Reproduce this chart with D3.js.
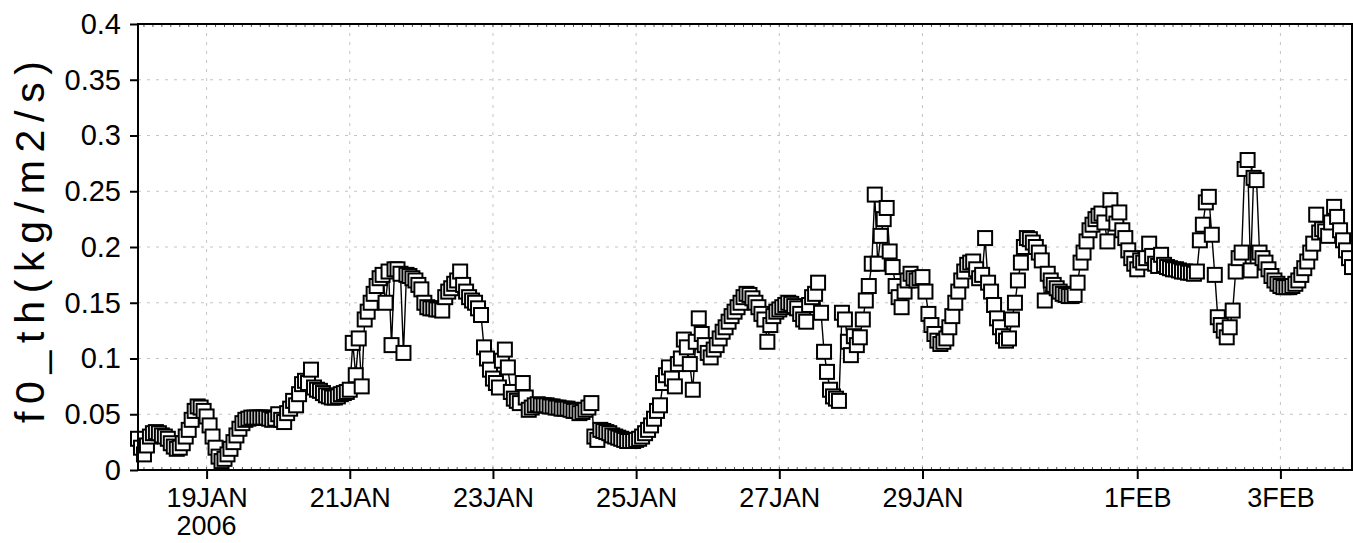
<!DOCTYPE html>
<html>
<head>
<meta charset="utf-8">
<script src="https://cdn.jsdelivr.net/npm/d3@7"></script>
<style>
  html, body { margin: 0; padding: 0; background: #fff; }
  svg { display: block; }
  text { font-family: "Liberation Sans", Arial, Helvetica, sans-serif; fill: #000; }
</style>
</head>
<body>
<svg id="chart" width="1353" height="543"></svg>
<script>
// ---- DATA (hourly values, 01Z of each day through 00Z of the next day) ----
const jan18 = [0.028,0.020,0.014,0.022,0.030,0.033,0.034,0.033,0.031,0.030,0.028,0.024,0.021,0.019,0.020,0.024,0.030,0.036,0.045,0.053,0.057,0.056,0.053,0.048];
const jan19 = [0.040,0.030,0.020,0.012,0.008,0.010,0.014,0.019,0.025,0.031,0.037,0.042,0.045,0.046,0.047,0.047,0.047,0.047,0.047,0.047,0.046,0.045,0.046,0.050];
const jan20 = [0.045,0.043,0.051,0.055,0.062,0.058,0.068,0.077,0.080,0.078,0.090,0.074,0.072,0.071,0.069,0.067,0.066,0.065,0.065,0.066,0.068,0.069,0.070,0.072];
const jan21 = [0.114,0.085,0.118,0.075,0.135,0.142,0.150,0.158,0.165,0.172,0.175,0.150,0.178,0.112,0.180,0.180,0.176,0.105,0.175,0.174,0.172,0.170,0.166,0.162];
const jan22 = [0.150,0.146,0.145,0.145,0.144,0.144,0.143,0.155,0.160,0.163,0.167,0.170,0.178,0.166,0.160,0.155,0.152,0.150,0.145,0.139,0.110,0.100,0.090,0.082];
const jan23 = [0.078,0.074,0.098,0.108,0.092,0.070,0.064,0.062,0.060,0.078,0.065,0.054,0.056,0.058,0.059,0.058,0.058,0.058,0.057,0.057,0.056,0.056,0.055,0.055];
const jan24 = [0.055,0.054,0.053,0.053,0.051,0.052,0.054,0.056,0.060,0.030,0.027,0.036,0.035,0.034,0.033,0.031,0.030,0.029,0.028,0.027,0.026,0.026,0.026,0.027];
const jan25 = [0.028,0.030,0.033,0.036,0.040,0.046,0.053,0.058,0.078,0.085,0.092,0.082,0.075,0.095,0.100,0.117,0.110,0.095,0.072,0.115,0.136,0.122,0.112,0.105];
const jan26 = [0.101,0.108,0.112,0.118,0.124,0.128,0.133,0.138,0.142,0.146,0.150,0.155,0.158,0.157,0.154,0.150,0.146,0.140,0.135,0.115,0.130,0.138,0.142,0.144];
const jan27 = [0.146,0.148,0.150,0.149,0.147,0.145,0.140,0.135,0.133,0.148,0.155,0.158,0.168,0.141,0.106,0.088,0.072,0.066,0.064,0.062,0.141,0.135,0.115,0.103];
const jan28 = [0.120,0.112,0.119,0.135,0.152,0.165,0.185,0.247,0.185,0.210,0.225,0.235,0.196,0.182,0.165,0.155,0.146,0.160,0.170,0.176,0.172,0.170,0.172,0.173];
const jan29 = [0.160,0.140,0.130,0.122,0.116,0.113,0.115,0.118,0.128,0.138,0.150,0.160,0.170,0.178,0.184,0.186,0.187,0.180,0.172,0.175,0.208,0.168,0.160,0.148];
const jan30 = [0.136,0.128,0.120,0.116,0.118,0.135,0.150,0.170,0.186,0.200,0.208,0.207,0.204,0.200,0.195,0.188,0.152,0.176,0.170,0.166,0.163,0.160,0.158,0.157];
const jan31 = [0.156,0.156,0.157,0.168,0.186,0.195,0.205,0.215,0.220,0.225,0.228,0.230,0.222,0.205,0.242,0.230,0.221,0.231,0.215,0.208,0.197,0.190,0.185,0.180];
const feb01 = [0.188,0.186,0.190,0.203,0.192,0.185,0.183,0.193,0.184,0.182,0.181,0.180,0.180,0.179,0.178,0.178,0.177,0.177,0.176,0.178,0.206,0.220,0.240,0.245];
const feb02 = [0.211,0.175,0.137,0.130,0.125,0.119,0.128,0.143,0.178,0.190,0.195,0.270,0.278,0.179,0.262,0.260,0.195,0.190,0.186,0.180,0.174,0.170,0.167,0.165];
const feb03 = [0.164,0.164,0.164,0.165,0.167,0.170,0.175,0.181,0.187,0.195,0.203,0.229,0.213,0.216,0.214,0.210,0.222,0.236,0.227,0.215,0.206,0.197,0.190,0.182];

const seriesStart = Date.UTC(2006, 0, 18, 1);   // first hourly value
const seriesEnd   = Date.UTC(2006, 1, 4, 0);    // last hourly value

const yTickValues = [0, 0.05, 0.1, 0.15, 0.2, 0.25, 0.3, 0.35, 0.4];
const yTickLabels = ["0", "0.05", "0.1", "0.15", "0.2", "0.25", "0.3", "0.35", "0.4"];
const xTickDates  = ["2006-01-19", "2006-01-21", "2006-01-23", "2006-01-25", "2006-01-27", "2006-01-29", "2006-02-01", "2006-02-03"];
const xTickLabels = ["19JAN", "21JAN", "23JAN", "25JAN", "27JAN", "29JAN", "1FEB", "3FEB"];
const yearLabel   = "2006";
const yTitle      = "f0_th(kg/m2/s)";

// ---- BUILD ----
const values = [].concat(jan18, jan19, jan20, jan21, jan22, jan23, jan24, jan25, jan26,
                         jan27, jan28, jan29, jan30, jan31, feb01, feb02, feb03);
const data = values.map((v, i) => ({ t: d3.utcHour.offset(new Date(seriesStart), i), v }));

const L = 138, R = 1352, T = 24, B = 470;
const svg = d3.select("#chart");

const x = d3.scaleUtc().domain([new Date(seriesStart), new Date(seriesEnd)]).range([L, R]);
const y = d3.scaleLinear().domain([0, 0.4]).range([B, T]);
const tickDates = xTickDates.map(s => new Date(s + "T00:00:00Z"));

// grid
const grid = svg.append("g").attr("stroke", "#c4c4c4").attr("stroke-width", 1)
  .attr("stroke-dasharray", "3,6");
grid.selectAll("line.h").data(yTickValues.filter(v => v > 0 && v < 0.4)).join("line")
  .attr("x1", L).attr("x2", R).attr("y1", d => y(d)).attr("y2", d => y(d));
grid.selectAll("line.v").data(tickDates).join("line")
  .attr("x1", d => x(d)).attr("x2", d => x(d)).attr("y1", T).attr("y2", B);

// minor ticks every 3 hours (inward, bottom and top)
const minor = d3.utcHour.every(3).range(new Date(seriesStart), new Date(seriesEnd));
const mt = svg.append("g").attr("stroke", "#555").attr("stroke-width", 1);
mt.selectAll("line.b").data(minor).join("line")
  .attr("x1", d => x(d)).attr("x2", d => x(d)).attr("y1", B).attr("y2", B - 3);
mt.selectAll("line.t").data(minor).join("line")
  .attr("x1", d => x(d)).attr("x2", d => x(d)).attr("y1", T).attr("y2", T + 3);

// series line
svg.append("path").datum(data)
  .attr("fill", "none").attr("stroke", "#000").attr("stroke-width", 1.4)
  .attr("d", d3.line().x(d => x(d.t)).y(d => y(d.v)));

// markers
const S = 14;
svg.append("g").selectAll("rect").data(data).join("rect")
  .attr("x", d => x(d.t) - S / 2).attr("y", d => y(d.v) - S / 2)
  .attr("width", S).attr("height", S)
  .attr("fill", "#fff").attr("stroke", "#000").attr("stroke-width", 2);

// frame
svg.append("rect").attr("x", L).attr("y", T).attr("width", R - L).attr("height", B - T)
  .attr("fill", "none").attr("stroke", "#000").attr("stroke-width", 2);

// y axis
const yAxis = d3.axisLeft(y).tickValues(yTickValues).tickSize(8).tickPadding(9)
  .tickFormat((d, i) => yTickLabels[i]);
const gy = svg.append("g").attr("transform", `translate(${L},0)`).call(yAxis);
gy.select(".domain").remove();
gy.selectAll(".tick line").attr("stroke", "#000").attr("stroke-width", 2);
gy.selectAll(".tick text").attr("font-size", 29).attr("fill", "#000")
  .style("font-family", '"Liberation Sans", Arial, sans-serif');

// x axis
const xAxis = d3.axisBottom(x).tickValues(tickDates).tickSize(9).tickPadding(9)
  .tickFormat((d, i) => xTickLabels[i]);
const gx = svg.append("g").attr("transform", `translate(0,${B})`).call(xAxis);
gx.select(".domain").remove();
gx.selectAll(".tick line").attr("stroke", "#000").attr("stroke-width", 2);
gx.selectAll(".tick text").attr("font-size", 27).attr("fill", "#000")
  .style("font-family", '"Liberation Sans", Arial, sans-serif');
svg.append("text").attr("x", x(tickDates[0])).attr("y", 535)
  .attr("text-anchor", "middle").attr("font-size", 27).text(yearLabel);

// y title
svg.append("text")
  .attr("transform", `translate(44,242) rotate(-90)`)
  .attr("text-anchor", "middle").attr("font-size", 41)
  .attr("textLength", 362).attr("lengthAdjust", "spacing")
  .text(yTitle);
</script>
</body>
</html>
